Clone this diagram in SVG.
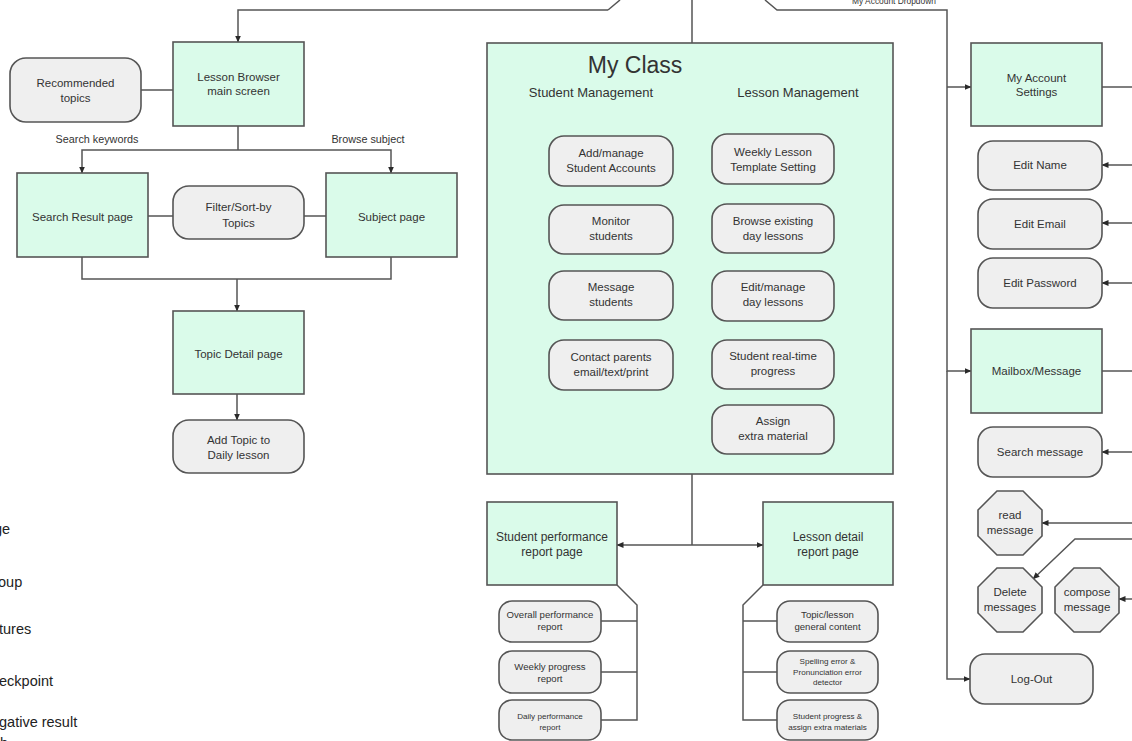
<svg xmlns="http://www.w3.org/2000/svg" width="1132" height="741" viewBox="0 0 1132 741">
<defs>
<marker id="ah" markerWidth="7" markerHeight="6" refX="6.5" refY="3" orient="auto" markerUnits="userSpaceOnUse">
<path d="M0,0 L7,3 L0,6 z" fill="#2a2a2a"/>
</marker>
<style>
.g{fill:#dafbea;stroke:#555;stroke-width:1.6}
.r{fill:#efefef;stroke:#555;stroke-width:1.6}
.c{fill:none;stroke:#555;stroke-width:1.5}
.a{fill:none;stroke:#555;stroke-width:1.5;marker-end:url(#ah)}
text{font-family:"Liberation Sans",Arial,sans-serif;fill:#333;text-anchor:middle}
.t{font-size:11.5px}
.s{font-size:9.6px}
.xs{font-size:8.1px}
.lg{font-size:14.5px;text-anchor:start;fill:#222}
</style>
</defs>
<rect width="1132" height="741" fill="#fff"/>

<g id="connectors">
<path class="c" d="M608,10 L620,0"/>
<path class="a" d="M608,10 H238 V42"/>
<path class="a" d="M692,0 V107"/>
<path class="c" d="M765,0 L777,10 H947 V87"/>
<path class="a" d="M947,87 H971"/>
<path class="a" d="M947,87 V371 H971"/>
<path class="a" d="M947,371 V679 H970"/>
<path class="c" d="M141,90 H173"/>
<path class="c" d="M238,126 V150"/>
<path class="a" d="M238,150 H82 V173"/>
<path class="a" d="M238,150 H391 V173"/>
<path class="c" d="M148,216 H173"/>
<path class="c" d="M304,216 H326"/>
<path class="c" d="M82,257 V279 H391 V257"/>
<path class="a" d="M237,279 V311"/>
<path class="a" d="M237,394 V420"/>
<path class="c" d="M511,367 V107 H871 V428 H834"/>
<path class="a" d="M511,160 H549"/>
<path class="a" d="M511,229 H549"/>
<path class="a" d="M511,296 H549"/>
<path class="a" d="M511,367 H549"/>
<path class="a" d="M871,159 H834"/>
<path class="a" d="M871,229 H834"/>
<path class="a" d="M871,296 H834"/>
<path class="a" d="M871,362 H834"/>
<path class="c" d="M692,474 V545"/>
<path class="a" d="M692,545 H617"/>
<path class="a" d="M692,545 H763"/>
<path class="c" d="M617,585 L637,605 V720 H601"/>
<path class="c" d="M637,621 H601"/>
<path class="c" d="M637,672 H601"/>
<path class="c" d="M763,585 L743,605 V720 H777"/>
<path class="c" d="M743,621 H777"/>
<path class="c" d="M743,672 H777"/>
<path class="c" d="M1102,87 H1132"/>
<path class="a" d="M1132,165 H1102"/>
<path class="a" d="M1132,223 H1102"/>
<path class="a" d="M1132,283 H1102"/>
<path class="c" d="M1102,371 H1132"/>
<path class="a" d="M1132,452 H1102"/>
<path class="a" d="M1132,523 H1042"/>
<path class="a" d="M1132,539 H1075 L1033,579"/>
<path class="a" d="M1132,599 H1119"/>
</g>

<text x="894" y="4" style="font-size:8.4px">My Account Dropdown</text>
<text x="97" y="143" style="font-size:10.8px">Search keywords</text>
<text x="368" y="143" style="font-size:10.8px">Browse subject</text>

<g id="recommended-topics"><rect class="r" x="10" y="58" width="131" height="64" rx="16"/><text class="t" x="75.5" y="87">Recommended</text><text class="t" x="75.5" y="102">topics</text></g>
<g id="lesson-browser"><rect class="g" x="173" y="42" width="131" height="84"/><text class="t" x="238.5" y="81">Lesson Browser</text><text class="t" x="238.5" y="95">main screen</text></g>
<g id="search-result"><rect class="g" x="17" y="173" width="131" height="84"/><text class="t" x="82.5" y="221">Search Result page</text></g>
<g id="filter-sort"><rect class="r" x="173" y="186" width="131" height="53" rx="16"/><text class="t" x="238.5" y="211">Filter/Sort-by</text><text class="t" x="238.5" y="227">Topics</text></g>
<g id="subject-page"><rect class="g" x="326" y="173" width="131" height="84"/><text class="t" x="391.5" y="221">Subject page</text></g>
<g id="topic-detail"><rect class="g" x="173" y="311" width="131" height="83"/><text class="t" x="238.5" y="358">Topic Detail page</text></g>
<g id="add-topic"><rect class="r" x="173" y="420" width="131" height="53" rx="16"/><text class="t" x="238.5" y="444">Add Topic to</text><text class="t" x="238.5" y="459">Daily lesson</text></g>

<g id="my-class"><rect class="g" x="487" y="43" width="406" height="431"/>
<text x="635" y="73" style="font-size:23px">My Class</text>
<text x="591" y="97" style="font-size:13px">Student Management</text>
<text x="798" y="97" style="font-size:13px">Lesson Management</text></g>
<g id="add-manage"><rect class="r" x="549" y="136" width="124" height="50" rx="15"/><text class="t" x="611" y="157">Add/manage</text><text class="t" x="611" y="172">Student Accounts</text></g>
<g id="monitor"><rect class="r" x="549" y="205" width="124" height="49" rx="15"/><text class="t" x="611" y="225">Monitor</text><text class="t" x="611" y="240">students</text></g>
<g id="message-students"><rect class="r" x="549" y="271" width="124" height="49" rx="15"/><text class="t" x="611" y="291">Message</text><text class="t" x="611" y="306">students</text></g>
<g id="contact-parents"><rect class="r" x="549" y="340" width="124" height="50" rx="15"/><text class="t" x="611" y="361">Contact parents</text><text class="t" x="611" y="376">email/text/print</text></g>
<g id="weekly-template"><rect class="r" x="712" y="134" width="122" height="50" rx="15"/><text class="t" x="773" y="156">Weekly Lesson</text><text class="t" x="773" y="171">Template Setting</text></g>
<g id="browse-lessons"><rect class="r" x="712" y="204" width="122" height="49" rx="15"/><text class="t" x="773" y="225">Browse existing</text><text class="t" x="773" y="240">day lessons</text></g>
<g id="edit-lessons"><rect class="r" x="712" y="271" width="122" height="50" rx="15"/><text class="t" x="773" y="291">Edit/manage</text><text class="t" x="773" y="306">day lessons</text></g>
<g id="realtime-progress"><rect class="r" x="712" y="340" width="122" height="49" rx="15"/><text class="t" x="773" y="360">Student real-time</text><text class="t" x="773" y="375">progress</text></g>
<g id="assign-material"><rect class="r" x="712" y="405" width="122" height="49" rx="15"/><text class="t" x="773" y="425">Assign</text><text class="t" x="773" y="440">extra material</text></g>

<g id="student-report"><rect class="g" x="487" y="502" width="130" height="83"/><text x="552" y="541" style="font-size:12px">Student performance</text><text x="552" y="556" style="font-size:12px">report page</text></g>
<g id="lesson-report"><rect class="g" x="763" y="502" width="130" height="83"/><text x="828" y="541" style="font-size:12px">Lesson detail</text><text x="828" y="556" style="font-size:12px">report page</text></g>
<g id="overall-report"><rect class="r" x="499" y="601" width="102" height="41" rx="13"/><text class="s" x="550" y="618">Overall performance</text><text class="s" x="550" y="630">report</text></g>
<g id="weekly-report"><rect class="r" x="499" y="651" width="102" height="42" rx="13"/><text class="s" x="550" y="670">Weekly progress</text><text class="s" x="550" y="682">report</text></g>
<g id="daily-report"><rect class="r" x="499" y="700" width="102" height="40" rx="13"/><text class="xs" x="550" y="719">Daily performance</text><text class="xs" x="550" y="730">report</text></g>
<g id="topic-content"><rect class="r" x="777" y="601" width="101" height="41" rx="13"/><text class="s" x="827.5" y="618">Topic/lesson</text><text class="s" x="827.5" y="630">general content</text></g>
<g id="spelling-detector"><rect class="r" x="777" y="651" width="101" height="42" rx="13"/><text class="xs" x="827.5" y="664">Spelling error &amp;</text><text class="xs" x="827.5" y="675">Pronunciation error</text><text class="xs" x="827.5" y="685">detector</text></g>
<g id="student-progress"><rect class="r" x="777" y="700" width="101" height="40" rx="13"/><text class="xs" x="827.5" y="719">Student progress &amp;</text><text class="xs" x="827.5" y="730">assign extra materials</text></g>

<g id="account-settings"><rect class="g" x="971" y="43" width="131" height="83"/><text class="t" x="1036.5" y="82">My Account</text><text class="t" x="1036.5" y="96">Settings</text></g>
<g id="edit-name"><rect class="r" x="978" y="141" width="124" height="49" rx="15"/><text class="t" x="1040" y="169">Edit Name</text></g>
<g id="edit-email"><rect class="r" x="978" y="199" width="124" height="50" rx="15"/><text class="t" x="1040" y="228">Edit Email</text></g>
<g id="edit-password"><rect class="r" x="978" y="258" width="124" height="50" rx="15"/><text class="t" x="1040" y="287">Edit Password</text></g>
<g id="mailbox"><rect class="g" x="971" y="329" width="131" height="84"/><text class="t" x="1036.5" y="375">Mailbox/Message</text></g>
<g id="search-message"><rect class="r" x="978" y="427" width="124" height="50" rx="15"/><text class="t" x="1040" y="456">Search message</text></g>
<g id="read-message"><polygon class="r" points="997,491 1023,491 1042,510 1042,536 1023,555 997,555 978,536 978,510"/><text class="t" x="1010" y="519">read</text><text class="t" x="1010" y="534">message</text></g>
<g id="delete-messages"><polygon class="r" points="997,568 1023,568 1042,587 1042,613 1023,632 997,632 978,613 978,587"/><text class="t" x="1010" y="596">Delete</text><text class="t" x="1010" y="611">messages</text></g>
<g id="compose-message"><polygon class="r" points="1074,568 1100,568 1119,587 1119,613 1100,632 1074,632 1055,613 1055,587"/><text class="t" x="1087" y="596">compose</text><text class="t" x="1087" y="611">message</text></g>
<g id="log-out"><rect class="r" x="970" y="654" width="123" height="50" rx="15"/><text class="t" x="1031.5" y="683">Log-Out</text></g>

<g id="legend">
<text class="lg" x="-6" y="534">ge</text>
<text class="lg" x="-2" y="587">oup</text>
<text class="lg" x="-1" y="634">tures</text>
<text class="lg" x="-1" y="686">eckpoint</text>
<text class="lg" x="-1" y="727">gative result</text>
<text class="lg" x="0" y="748">h</text>
</g>
</svg>
